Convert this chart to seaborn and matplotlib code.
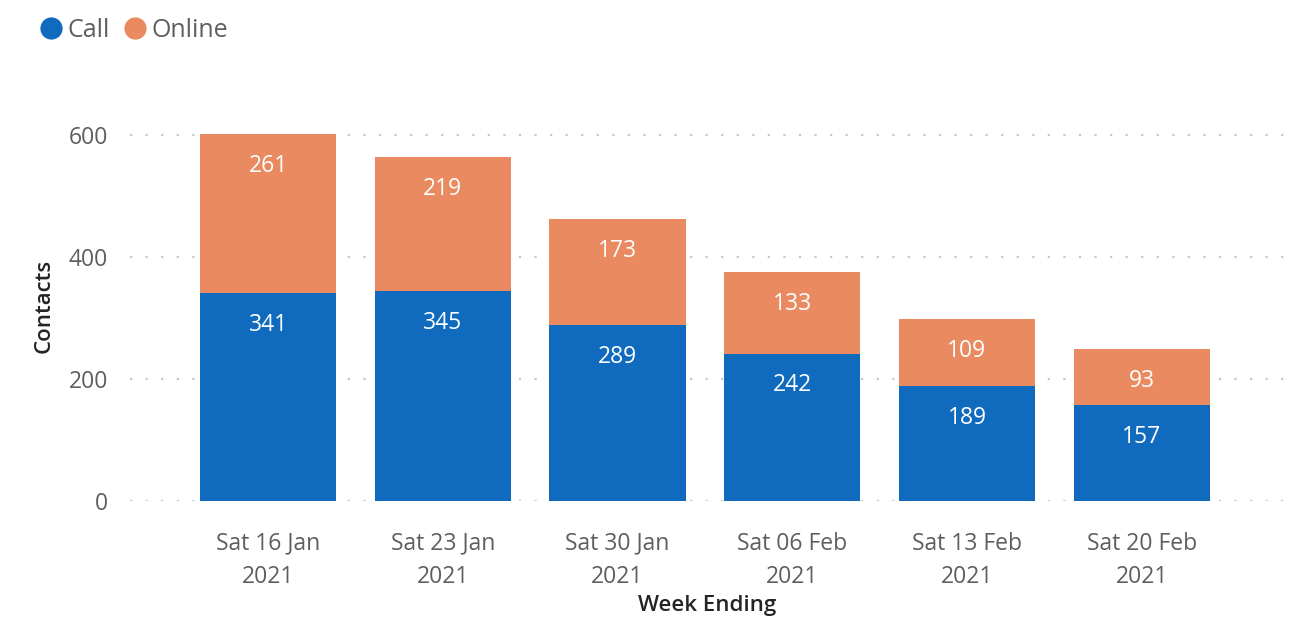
import pandas as pd
import matplotlib
matplotlib.use("Agg")
import matplotlib.pyplot as plt
import seaborn as sns
from matplotlib.lines import Line2D

# values
weeks = ["Sat 16 Jan\n2021", "Sat 23 Jan\n2021", "Sat 30 Jan\n2021",
         "Sat 06 Feb\n2021", "Sat 13 Feb\n2021", "Sat 20 Feb\n2021"]
call = [341, 345, 289, 242, 189, 157]
online = [261, 219, 173, 133, 109, 93]

BLUE = "#106BBF"
ORANGE = "#E98A60"

df = pd.DataFrame({"Week": weeks, "Call": call, "Online": online})
df["Total"] = df["Call"] + df["Online"]

sns.set_theme(style="white")
plt.rcParams["font.family"] = ["Open Sans", "DejaVu Sans"]

fig = plt.figure(figsize=(12.9, 6.29), dpi=100)
ax = fig.add_axes([130 / 1290, 128 / 629, 1155 / 1290, 390 / 629])

# stacked: total in orange underneath, call in blue on top of it
sns.barplot(data=df, x="Week", y="Total", color=ORANGE, width=0.78,
            saturation=1, linewidth=0, ax=ax, zorder=2)
sns.barplot(data=df, x="Week", y="Call", color=BLUE, width=0.78,
            saturation=1, linewidth=0, ax=ax, zorder=3)

ax.set_xlim(-0.79, 5.82)
ax.set_ylim(0, 640)
ax.set_yticks([0, 200, 400, 600])

for spine in ax.spines.values():
    spine.set_visible(False)
ax.yaxis.grid(True, color="#c8c8c8", linestyle=(0, (1, 6)), linewidth=1.6, zorder=0)
ax.set_axisbelow(True)

ax.tick_params(axis="x", length=0, pad=22, labelsize=16.5, labelcolor="#605E5C")
ax.tick_params(axis="y", length=0, pad=16, labelsize=16.5, labelcolor="#605E5C")
for lab in ax.get_xticklabels():
    lab.set_linespacing(1.5)

ax.set_xlabel("Week Ending", fontsize=16, color="#252423", fontweight="semibold", labelpad=5)
ax.set_ylabel("Contacts", fontsize=16, color="#252423", fontweight="semibold", labelpad=10)

# data labels near the top of each segment
for i in range(len(weeks)):
    ax.annotate(str(call[i]), (i, call[i]), xytext=(0, -23), textcoords="offset points",
                ha="center", va="center", color="white", fontsize=16.5, zorder=5)
    ax.annotate(str(online[i]), (i, call[i] + online[i]), xytext=(0, -23),
                textcoords="offset points", ha="center", va="center",
                color="white", fontsize=16.5, zorder=5)

handles = [
    Line2D([0], [0], marker="o", linestyle="", markersize=15, color=BLUE, label="Call"),
    Line2D([0], [0], marker="o", linestyle="", markersize=15, color=ORANGE, label="Online"),
]
fig.legend(handles=handles, loc="upper left", bbox_to_anchor=(0.003, 1.007), ncol=2,
           frameon=False, fontsize=18, handletextpad=-0.35, columnspacing=0.0,
           labelcolor="#605E5C")

fig.savefig("out.png", dpi=100)
